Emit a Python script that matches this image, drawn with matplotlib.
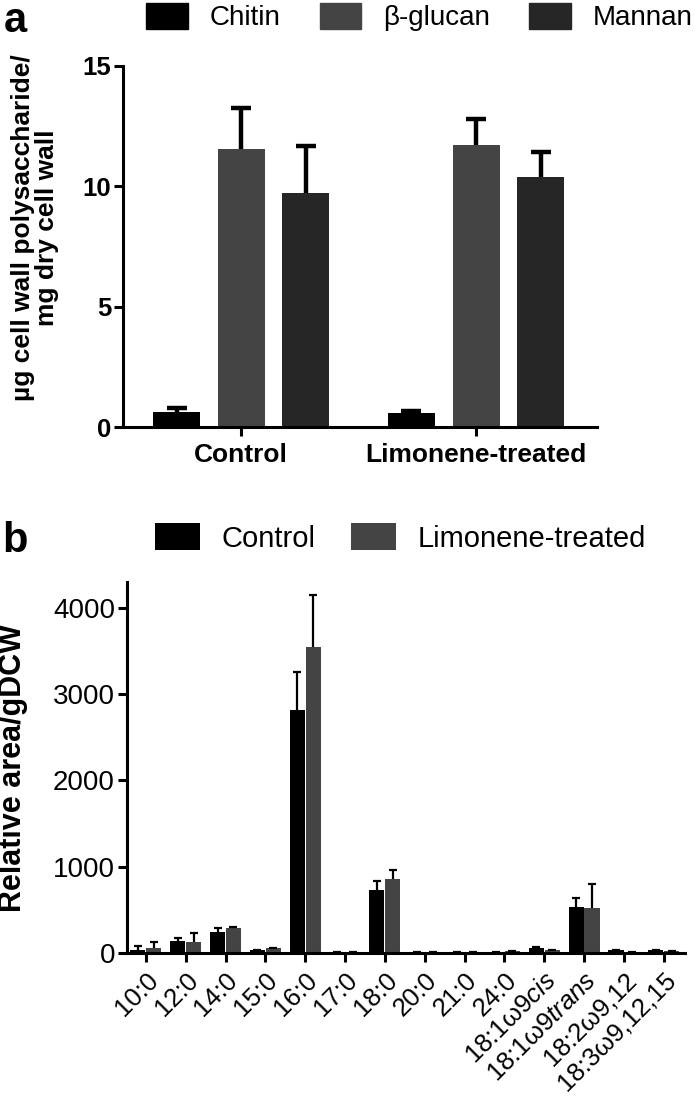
import numpy as np
import matplotlib
matplotlib.use("Agg")
import matplotlib.pyplot as plt
import matplotlib.transforms as mtransforms
from matplotlib.patches import Rectangle

plt.rcParams['font.family'] = ['Liberation Sans', 'DejaVu Sans']
plt.rcParams['mathtext.fontset'] = 'custom'
plt.rcParams['mathtext.rm'] = 'Liberation Sans'
plt.rcParams['mathtext.it'] = 'Liberation Sans:italic'

# panel a: cell wall polysaccharides
groups = ["Control", "Limonene-treated"]
chitin = [0.62, 0.58]
chitin_err = [0.15, 0.07]
glucan = [11.55, 11.7]
glucan_err = [1.7, 1.1]
mannan = [9.72, 10.38]
mannan_err = [1.95, 1.05]

# panel b: fatty acids
fatty_acids = ["10:0", "12:0", "14:0", "15:0", "16:0", "17:0", "18:0", "20:0",
               "21:0", "24:0", "18:1ω9$\\it{cis}$", "18:1ω9$\\it{trans}$",
               "18:2ω9,12", "18:3ω9,12,15"]
control = [40, 140, 245, 30, 2820, 15, 730, 10, 5, 10, 60, 530, 30, 30]
control_err = [40, 35, 40, 5, 440, 3, 105, 2, 2, 2, 10, 110, 5, 5]
limonene = [60, 130, 285, 55, 3548, 15, 858, 10, 5, 20, 30, 520, 15, 20]
limonene_err = [65, 105, 15, 5, 600, 3, 104, 2, 2, 2, 5, 280, 3, 3]

black = "#000000"
grey = "#444444"
dark = "#262626"


def up_errorbar(ax, pos, vals, errs, lw, cap):
    # one-sided (upper) error bars, lower cap hidden
    _, caps, _ = ax.errorbar(pos, vals, yerr=[np.zeros(len(errs)), errs], fmt="none",
                             ecolor="black", elinewidth=lw, capsize=cap,
                             capthick=lw, zorder=3)
    caps[0].set_visible(False)


fig = plt.figure(figsize=(7, 10.98), dpi=100)

# ---------- panel a ----------
ax1 = fig.add_axes([0.176, 0.6111, 0.677, 0.3288])
x = np.arange(len(groups))
w = 0.2
step = 0.275
series_a = [(chitin, chitin_err, black, "Chitin"),
            (glucan, glucan_err, grey, "β-glucan"),
            (mannan, mannan_err, dark, "Mannan")]
for i, (vals, errs, col, lab) in enumerate(series_a):
    pos = x + (i - 1) * step
    ax1.bar(pos, vals, width=w, color=col, label=lab, zorder=2)
    up_errorbar(ax1, pos, vals, errs, 3.2, 7.5)

ax1.set_xlim(-0.502, 1.515)
ax1.set_ylim(0, 15)
ax1.set_yticks([0, 5, 10, 15])
ax1.set_xticks(x)
ax1.set_xticklabels(groups, fontweight="bold", fontsize=19)
for lbl in ax1.get_yticklabels():
    lbl.set_fontweight("bold")
ax1.tick_params(axis="y", labelsize=18.5, width=2.2, length=6.5, pad=2)
ax1.tick_params(axis="x", width=2.2, length=6.5, pad=5)
for s in ["top", "right"]:
    ax1.spines[s].set_visible(False)
for s in ["left", "bottom"]:
    ax1.spines[s].set_linewidth(2.2)
ax1.set_ylabel("µg cell wall polysaccharide/\nmg dry cell wall", fontweight="bold",
               fontsize=19, linespacing=1.0, va="center")
ax1.yaxis.set_label_coords(-0.186, 0.551)

handles_a = [Rectangle((0, 0), 1, 1, color=c) for c in [black, grey, dark]]
ax1.legend(handles_a, ["Chitin", "β-glucan", "Mannan"], loc="center left",
           bbox_to_anchor=(0.2086, 0.9845), bbox_transform=fig.transFigure,
           ncol=3, frameon=False, fontsize=20, handlelength=1.5, handleheight=1.05,
           handletextpad=0.8, columnspacing=1.4, borderpad=0, borderaxespad=0)
fig.text(0.005, 0.981, "a", fontsize=30, fontweight="bold", va="center")

# ---------- panel b ----------
ax2 = fig.add_axes([0.181, 0.132, 0.798, 0.3379])
xb = np.arange(len(fatty_acids))
wb = 0.38
ax2.bar(xb - 0.2, control, width=wb, color=black, label="Control", zorder=2)
ax2.bar(xb + 0.2, limonene, width=wb, color=grey, label="Limonene-treated", zorder=2)
up_errorbar(ax2, xb - 0.2, control, control_err, 1.6, 3)
up_errorbar(ax2, xb + 0.2, limonene, limonene_err, 1.6, 3)
ax2.set_xlim(-0.48, 13.54)
ax2.set_ylim(0, 4300)
ax2.set_yticks([0, 1000, 2000, 3000, 4000])
ax2.set_xticks(xb)
ax2.set_xticklabels(fatty_acids, rotation=45, ha="right", rotation_mode="anchor",
                    fontsize=18.5)
shift = mtransforms.ScaledTranslation(8 / 72, -21 / 72, fig.dpi_scale_trans)
for lbl in ax2.get_xticklabels():
    lbl.set_transform(lbl.get_transform() + shift)
ax2.tick_params(axis="y", labelsize=20, width=2.2, length=6.5, pad=2)
ax2.tick_params(axis="x", width=2.2, length=6.5, pad=4)
for s in ["top", "right"]:
    ax2.spines[s].set_visible(False)
for s in ["left", "bottom"]:
    ax2.spines[s].set_linewidth(2.2)
ax2.set_ylabel("Relative area/gDCW", fontweight="bold", fontsize=22, va="center")
ax2.yaxis.set_label_coords(-0.203, 0.499)

ax2.legend(loc="center left", bbox_to_anchor=(0.221, 0.51),
           bbox_transform=fig.transFigure, ncol=2, frameon=False, fontsize=21,
           handlelength=1.55, handleheight=1.05, handletextpad=0.75,
           columnspacing=1.2, borderpad=0, borderaxespad=0)
fig.text(0.003, 0.507, "b", fontsize=30, fontweight="bold", va="center")

fig.savefig("out.png", dpi=100)
